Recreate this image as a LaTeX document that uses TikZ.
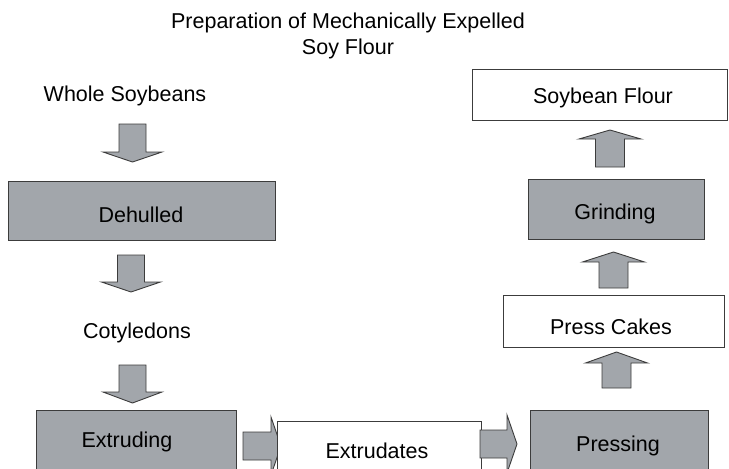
\documentclass[tikz,border=0pt]{standalone}
\usepackage{fontspec}
\setmainfont{Liberation Sans}
\definecolor{boxgray}{HTML}{A2A6AB}
\definecolor{edgegray}{HTML}{3C3C3C}
\tikzset{
  txt/.style={font=\fontsize{21.5}{26}\selectfont, inner sep=0pt, align=center},
  graybox/.style={draw=edgegray, line width=0.9pt, fill=boxgray},
  whitebox/.style={draw=edgegray, line width=0.9pt, fill=white},
  blockarrow/.style={draw=edgegray, line width=0.9pt, fill=boxgray, line join=miter},
}
% down arrow: center x, top, head base, tip
\newcommand{\dnarrow}[4]{%
  \draw[blockarrow] (#1-13.5,#2) -- (#1+13.5,#2) -- (#1+13.5,#3) -- (#1+29.5,#3) -- (#1,#4) -- (#1-29.5,#3) -- (#1-13.5,#3) -- cycle;}
% up arrow: center x, bottom, head base, tip
\newcommand{\uparrowblk}[4]{%
  \draw[blockarrow] (#1-14.5,#2) -- (#1+14.5,#2) -- (#1+14.5,#3) -- (#1+31,#3) -- (#1,#4) -- (#1-31,#3) -- (#1-14.5,#3) -- cycle;}
% right arrow: center y, left, head base, tip
\newcommand{\rtarrow}[4]{%
  \draw[blockarrow] (#2,#1-14) -- (#3,#1-14) -- (#3,#1-29) -- (#4,#1) -- (#3,#1+29) -- (#3,#1+14) -- (#2,#1+14) -- cycle;}
\begin{document}
\begin{tikzpicture}[x=1pt,y=-1pt]
\useasboundingbox (0,0) rectangle (729,469);
\clip (0,0) rectangle (729,469);

% title
\node[txt] (title) at (348,36) {Preparation of Mechanically Expelled\\Soy Flour};

% left column
\node[txt] (whole) at (125,96) {Whole Soybeans};
\dnarrow{132.5}{124}{152}{162}
\draw[graybox] (8,181) rectangle (275,240);
\node[txt] (dehulled) at (141,215) {Dehulled};
\dnarrow{131}{255}{282}{292}
\node[txt] (coty) at (137,333) {Cotyledons};
\dnarrow{132.5}{365}{392}{403}
\draw[graybox] (36,410) rectangle (236,480);
\node[txt] (extruding) at (127,442) {Extruding};

% bottom row
\rtarrow{446}{243}{271}{281}
\draw[whitebox] (277,421) rectangle (481,480);
\node[txt] (extrudates) at (377,451) {Extrudates};
\rtarrow{444}{480}{507}{517}
\draw[graybox] (530,410) rectangle (708,480);
\node[txt] (pressing) at (618,446) {Pressing};

% right column
\uparrowblk{616.5}{388}{363}{352}
\draw[whitebox] (503,295) rectangle (724,347);
\node[txt] (cakes) at (611,327) {Press Cakes};
\uparrowblk{613.5}{288}{262}{252}
\draw[graybox] (528,179) rectangle (704,239);
\node[txt] (grinding) at (615,214) {Grinding};
\uparrowblk{610}{167}{139}{130}
\draw[whitebox] (472,69) rectangle (727,120);
\node[txt] (flour) at (603,98) {Soybean Flour};
\end{tikzpicture}
\end{document}
